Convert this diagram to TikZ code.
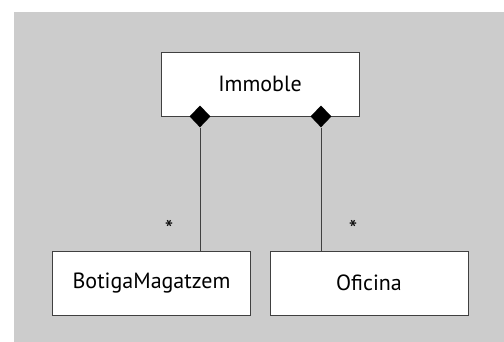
\documentclass[tikz,border=0pt]{standalone}
\usepackage{fontspec}
\setmainfont{PT Sans}
\usetikzlibrary{shapes.geometric}
\definecolor{bggray}{HTML}{CCCCCC}
\definecolor{linegray}{HTML}{404040}
\tikzset{
    classbox/.style={
        draw=linegray, fill=white, line width=0.9pt,
        minimum width=198pt, minimum height=64pt,
        inner sep=0pt, font=\fontsize{22}{26}\selectfont
    },
    whole/.style={
        diamond, fill=black, inner sep=0pt,
        minimum width=21pt, minimum height=22pt
    },
    link/.style={draw=linegray, line width=0.9pt},
    mult/.style={font=\fontsize{24}{28}\selectfont, inner sep=0pt}
}

\begin{document}
\begin{tikzpicture}[x=1pt,y=1pt]
		\useasboundingbox (0,0) rectangle (504,342);
		\fill [bggray] (14,0) rectangle (504,330);

		% Classes
		\node[classbox] (immoble) at (260,258) {Immoble};
		\node[classbox] (botiga) at (151.5,59) {BotigaMagatzem};
		\node[classbox] (oficina) at (369,59) {Oficina};

		% Composition ends
		\node[whole] (d1) at ([xshift=-60pt]immoble.south) {};
		\node[whole] (d2) at ([xshift=61pt]immoble.south) {};

		\draw[link] (d1.south) -- (d1.south |- botiga.north);
		\draw[link] (d2.south) -- (d2.south |- oficina.north);

		% Multiplicities
		\node[mult] (m1) at (169,113) {*};
		\node[mult] (m2) at (353,113) {*};
	\end{tikzpicture}
\end{document}
